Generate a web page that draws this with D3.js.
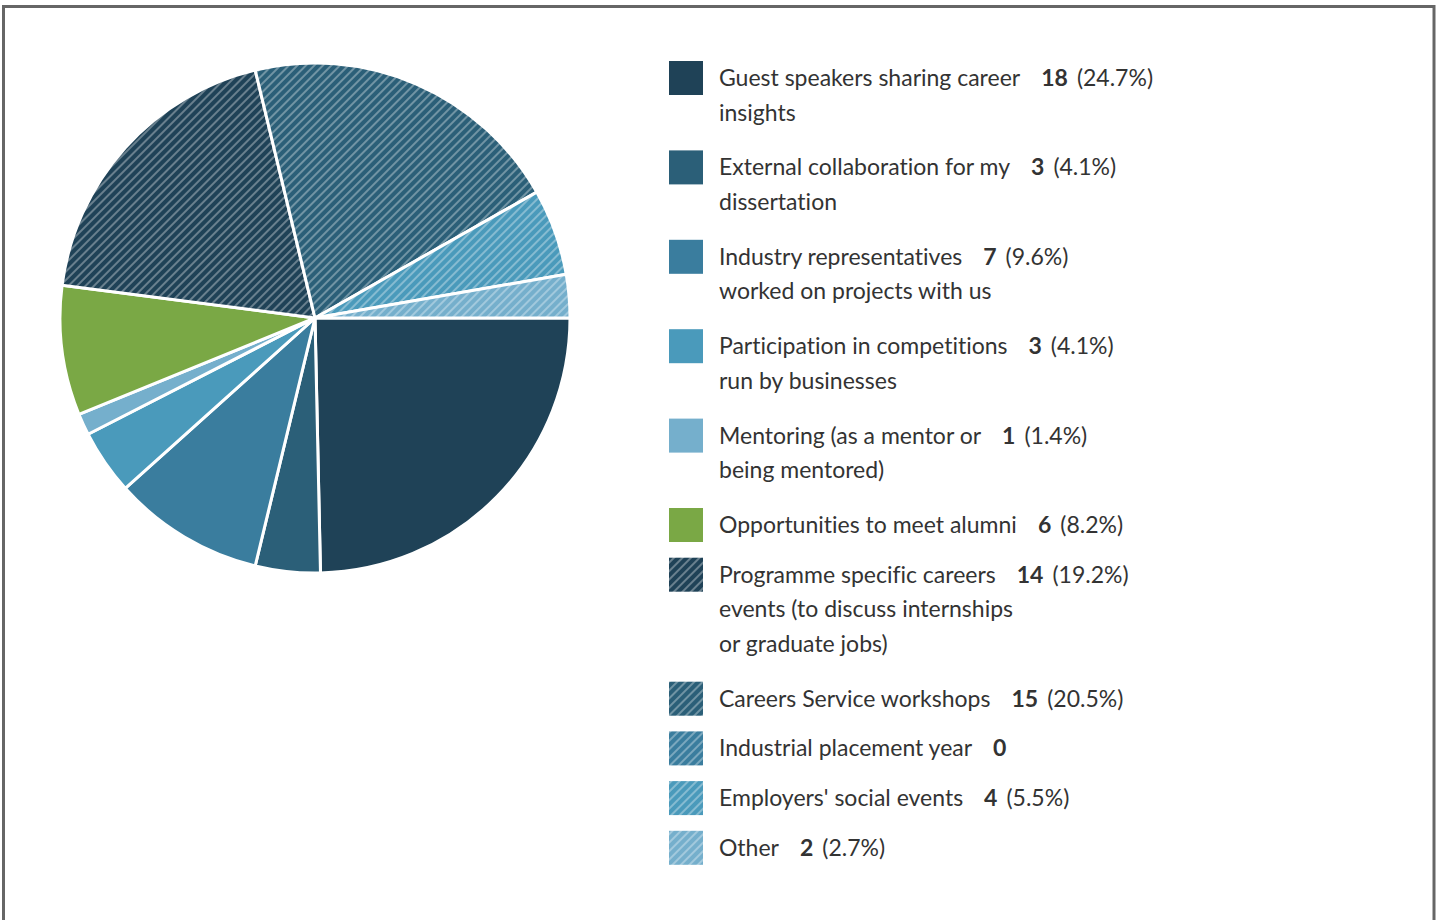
<!DOCTYPE html>
<html><head><meta charset="utf-8">
<script src="https://cdn.jsdelivr.net/npm/d3@7"></script>
<style>
html,body{margin:0;padding:0;background:#fff;}
svg{display:block;}
text{font-family:Lato,"Open Sans",sans-serif;font-variant-ligatures:none;}
</style></head>
<body>
<script>
const categories = [
  "Guest speakers sharing career insights",
  "External collaboration for my dissertation",
  "Industry representatives worked on projects with us",
  "Participation in competitions run by businesses",
  "Mentoring (as a mentor or being mentored)",
  "Opportunities to meet alumni",
  "Programme specific careers events (to discuss internships or graduate jobs)",
  "Careers Service workshops",
  "Industrial placement year",
  "Employers' social events",
  "Other"
];
const values = [18, 3, 7, 3, 1, 6, 14, 15, 0, 4, 2];
const baseColors = ["#1f4257","#2b5f78","#3a7d9e","#4a9abb","#75afcc","#7aa845","#1f4257","#2b5f78","#3a7d9e","#4a9abb","#75afcc"];
const striped = [false,false,false,false,false,false,true,true,true,true,true];

const W = 1437, H = 920;
const svg = d3.select("body").append("svg").attr("width", W).attr("height", H);

svg.append("rect").attr("x",3.5).attr("y",6.5).attr("width",1430.5).attr("height",H)
  .attr("fill","none").attr("stroke","#666").attr("stroke-width",3);

const defs = svg.append("defs");
const ps = 6;
baseColors.forEach((c,i)=>{
  if(!striped[i]) return;
  const p = defs.append("pattern").attr("id","pat"+i)
    .attr("patternUnits","userSpaceOnUse").attr("width",ps).attr("height",ps)
    .attr("patternTransform","rotate(45)");
  p.append("rect").attr("width",ps).attr("height",ps).attr("fill",c);
  p.append("line").attr("x1",1).attr("x2",1).attr("y1",0).attr("y2",ps)
    .attr("stroke","rgba(255,255,255,0.6)").attr("stroke-width",1.1);
});
const fillOf = i => striped[i] ? `url(#pat${i})` : baseColors[i];

const total = d3.sum(values);
const cx = 315, cy = 318, r = 255;
const pie = d3.pie().sort(null).value(d=>d.v).startAngle(Math.PI/2).endAngle(Math.PI/2 + 2*Math.PI);
const arc = d3.arc().innerRadius(0).outerRadius(r);
const data = values.map((v,i)=>({v,i}));
svg.append("g").attr("transform",`translate(${cx},${cy})`)
  .selectAll("path").data(pie(data).filter(d=>d.data.v>0)).join("path")
  .attr("d",arc).attr("fill",d=>fillOf(d.data.i))
  .attr("stroke","#fff").attr("stroke-width",3).attr("stroke-linejoin","round");

// Legend
const lx = 669, tx = 719, fs = 23, lh = 34.6, maxW = 312;
const lg = svg.append("g");
let y = 78;
categories.forEach((cat,i)=>{
  const g = lg.append("g");
  g.append("rect").attr("x",lx).attr("y",y-17).attr("width",34).attr("height",34).attr("fill",fillOf(i));
  const words = cat.split(" ");
  const lines = [];
  let cur = "";
  const meas = g.append("text").attr("font-size",fs);
  words.forEach(w=>{
    const test = cur ? cur+" "+w : w;
    meas.text(test);
    if(meas.node().getComputedTextLength() > maxW && cur){ lines.push(cur); cur = w; }
    else cur = test;
  });
  lines.push(cur);
  meas.remove();
  let firstW = 0;
  lines.forEach((ln,k)=>{
    const t = g.append("text").attr("x",tx).attr("y",y + k*lh).attr("dy","0.35em")
      .attr("font-size",fs).attr("fill","#333").text(ln);
    if(k===0) firstW = t.node().getComputedTextLength();
  });
  const vx = tx + firstW + 21;
  const vt = g.append("text").attr("x",vx).attr("y",y).attr("dy","0.35em")
    .attr("font-size",fs).attr("fill","#333").attr("font-weight","bold").text(values[i]);
  if(values[i] > 0){
    const vw = vt.node().getComputedTextLength();
    g.append("text").attr("x",vx+vw+9).attr("y",y).attr("dy","0.35em")
      .attr("font-size",fs).attr("fill","#333")
      .text(`(${(values[i]/total*100).toFixed(1)}%)`);
  }
  y += lines.length===1 ? 49.7 : lines.length*lh + 20.2;
});
</script>
</body></html>
